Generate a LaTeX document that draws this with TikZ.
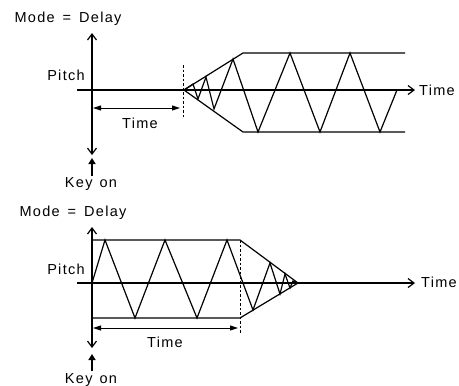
\documentclass[tikz,border=0pt]{standalone}
\usepackage{fontspec}
\setmainfont{Liberation Sans}[LetterSpace=9]
\usetikzlibrary{arrows.meta}
\tikzset{
  lab/.style={inner sep=0pt, font=\fontsize{14.5}{16}\selectfont},
  axis/.style={line width=1.2pt, arrows={Straight Barb[length=6pt,width=9pt]-Straight Barb[length=6pt,width=9pt]}},
  haxis/.style={line width=1.2pt, -{Straight Barb[length=6pt,width=9pt]}},
  dim/.style={line width=1pt, {Triangle[length=8pt,width=5pt]}-{Triangle[length=8pt,width=5pt]}},
  dashv/.style={line width=0.8pt, dash pattern=on 2.5pt off 2pt},
  env/.style={line width=1.2pt, line join=round},
  zig/.style={line width=1.2pt, line join=miter},
  keyarrow/.style={line width=2.6pt, -{Triangle[length=6pt,width=7pt]}}
}
\newcommand{\modetxt}{Mode\hspace{8pt}=\hspace{8pt}Delay}
\newcommand{\keytxt}{Key\hspace{7pt}on}
\begin{document}
\begin{tikzpicture}[x=1pt,y=-1pt]
\useasboundingbox (0,0) rectangle (459,386);
% ---------------- top diagram ----------------
\node[lab] (mode1) at (68,19) {\modetxt};
\node[lab] (pitch1) at (66,75) {Pitch};
\node[lab] (time1) at (140,123) {Time};
\node[lab,anchor=west] (timer1) at (419,90) {Time};
\node[lab] (key1) at (91,184) {\keytxt};
\coordinate (vt1) at (92,33);
\coordinate (vb1) at (92,155);
\coordinate (hl1) at (77,90);
\coordinate (hr1) at (415,90);
\coordinate (dl1) at (93,108);
\coordinate (dr1) at (180,108);
\coordinate (ds1) at (183,65);
\coordinate (de1) at (183,118);
\coordinate (ka1) at (92,176);
\coordinate (kb1) at (92,158);
\draw[axis] (vt1) -- (vb1);
\draw[haxis] (hl1) -- (hr1);
\draw[dim] (dl1) -- (dr1);
\draw[dashv] (ds1) -- (de1);
\draw[keyarrow] (ka1) -- (kb1);
\draw[env] (405,53) -- (243,53) -- (184,90) -- (243,132) -- (405,132);
\draw[zig] (184,90) -- (193,84) -- (198,99) -- (206,77) -- (214,109)
  -- (233,59) -- (258,132) -- (290,53) -- (320,132) -- (350,53) -- (380,132) -- (397,90);
% ---------------- bottom diagram ----------------
\node[lab] (mode2) at (73,213) {\modetxt};
\node[lab] (pitch2) at (66,269) {Pitch};
\node[lab] (time2) at (165,342) {Time};
\node[lab,anchor=west] (timer2) at (421,282) {Time};
\node[lab] (key2) at (91,380) {\keytxt};
\coordinate (vt2) at (92,227);
\coordinate (vb2) at (92,348);
\coordinate (hl2) at (77,283);
\coordinate (hr2) at (415,283);
\coordinate (dl2) at (93,328);
\coordinate (dr2) at (238,328);
\coordinate (ds2) at (240,240);
\coordinate (de2) at (240,333);
\coordinate (ka2) at (92,371);
\coordinate (kb2) at (92,354);
\draw[axis] (vt2) -- (vb2);
\draw[haxis] (hl2) -- (hr2);
\draw[dim] (dl2) -- (dr2);
\draw[dashv] (ds2) -- (de2);
\draw[keyarrow] (ka2) -- (kb2);
\draw[env] (92,240) -- (240,240) -- (298,283) -- (240,318) -- (92,318);
\draw[zig] (92,283) -- (105,240) -- (135,318) -- (165,240) -- (197,318) -- (227,240)
  -- (253,310) -- (270,263) -- (280,294) -- (285,274) -- (290,288) -- (293,281) -- (298,283);
\end{tikzpicture}
\end{document}
